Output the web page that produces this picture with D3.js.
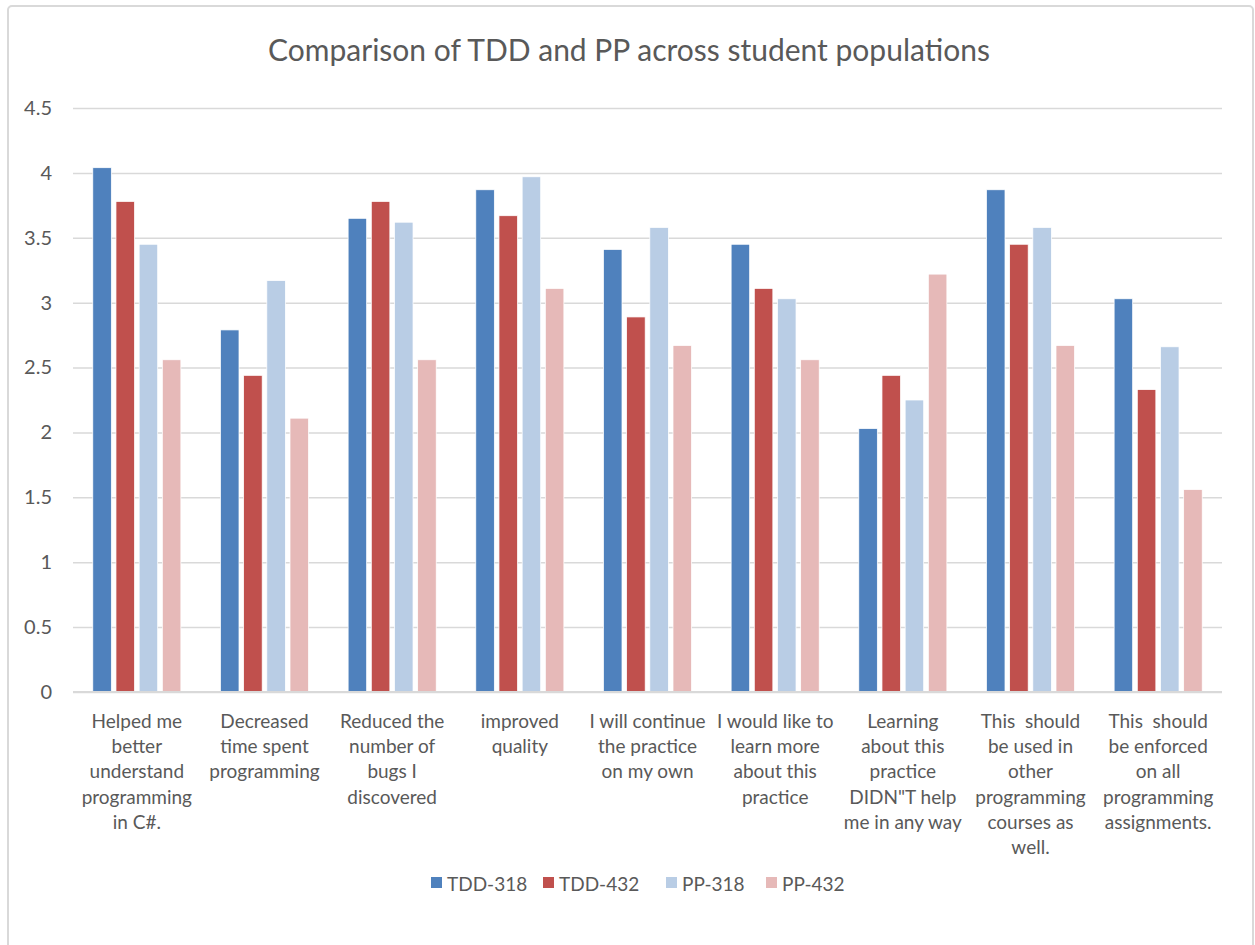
<!DOCTYPE html>
<html>
<head>
<meta charset="utf-8">
<script src="https://cdn.jsdelivr.net/npm/d3@7"></script>
<style>
  html, body { margin: 0; padding: 0; background: #fff; }
  svg { display: block; }
</style>
</head>
<body>
<svg id="chart" width="1255" height="945"></svg>
<script>
const categories = [
  ["Helped me", "better", "understand", "programming", "in C#."],
  ["Decreased", "time spent", "programming"],
  ["Reduced the", "number of", "bugs I", "discovered"],
  ["improved", "quality"],
  ["I will continue", "the practice", "on my own"],
  ["I would like to", "learn more", "about this", "practice"],
  ["Learning", "about this", "practice", "DIDN\"T help", "me in any way"],
  ["This  should", "be used in", "other", "programming", "courses as", "well."],
  ["This  should", "be enforced", "on all", "programming", "assignments."]
];
const seriesNames = ["TDD-318", "TDD-432", "PP-318", "PP-432"];
const tdd318 = [4.04, 2.79, 3.65, 3.87, 3.41, 3.45, 2.03, 3.87, 3.03];
const tdd432 = [3.78, 2.44, 3.78, 3.67, 2.89, 3.11, 2.44, 3.45, 2.33];
const pp318  = [3.45, 3.17, 3.62, 3.97, 3.58, 3.03, 2.25, 3.58, 2.66];
const pp432  = [2.56, 2.11, 2.56, 3.11, 2.67, 2.56, 3.22, 2.67, 1.56];
const yTicks = [0, 0.5, 1, 1.5, 2, 2.5, 3, 3.5, 4, 4.5];
const colors = ["#4f81bd", "#c0504d", "#b9cde5", "#e6b9b8"];
const title = "Comparison of TDD and PP across student populations";

const seriesValues = [tdd318, tdd432, pp318, pp432];
const font = "Lato, 'Open Sans', sans-serif";
const textColor = "#595959";

const svg = d3.select("#chart");

// outer border
svg.append("rect")
  .attr("x", 8).attr("y", 6).attr("width", 1245).attr("height", 960)
  .attr("rx", 4)
  .attr("fill", "none").attr("stroke", "#d9d9d9").attr("stroke-width", 2);

const plotL = 73, plotR = 1222, plotT = 108, plotB = 692;

const y = d3.scaleLinear().domain([0, 4.5]).range([plotB, plotT]);
const x0 = d3.scaleBand().domain(d3.range(categories.length)).range([plotL, plotR])
  .paddingInner(0.31).paddingOuter(0.155);
const x1 = d3.scaleBand().domain(d3.range(seriesNames.length)).range([0, x0.bandwidth()])
  .paddingInner(0.2).paddingOuter(0);

// title
svg.append("text")
  .attr("x", 629).attr("y", 61)
  .attr("text-anchor", "middle")
  .attr("font-family", font)
  .attr("font-weight", 400)
  .attr("font-size", 30)
  .attr("fill", textColor)
  .text(title);

// gridlines + y labels
const yAxis = d3.axisLeft(y).tickValues(yTicks).tickSize(-(plotR - plotL)).tickFormat(d3.format("~g")).tickPadding(21);
const gy = svg.append("g").attr("transform", `translate(${plotL},0)`).call(yAxis);
gy.select(".domain").remove();
gy.selectAll(".tick line").attr("stroke", "#d9d9d9").attr("stroke-width", 1.5);
gy.selectAll(".tick text")
  .attr("font-family", font).attr("font-size", 20).attr("fill", textColor);

// bars
const groups = svg.append("g").selectAll("g")
  .data(categories.map((c, i) => i))
  .join("g")
  .attr("transform", i => `translate(${x0(i)},0)`);

groups.selectAll("rect")
  .data(i => seriesValues.map((s, k) => ({ k, v: s[i] })))
  .join("rect")
  .attr("x", d => x1(d.k))
  .attr("width", x1.bandwidth())
  .attr("y", d => y(d.v))
  .attr("height", d => y(0) - y(d.v))
  .attr("fill", d => colors[d.k])
  .attr("stroke", "#fff").attr("stroke-width", 0.75);

// baseline
svg.append("line")
  .attr("x1", plotL).attr("x2", plotR)
  .attr("y1", y(0)).attr("y2", y(0))
  .attr("stroke", "#d9d9d9").attr("stroke-width", 2);

// x labels
const xl = svg.append("g").selectAll("text")
  .data(categories.map((c, i) => ({ c, i })))
  .join("text")
  .attr("x", d => x0(d.i) + x0.bandwidth() / 2)
  .attr("y", 728)
  .attr("text-anchor", "middle")
  .attr("font-family", font).attr("font-size", 19).attr("fill", textColor);
xl.selectAll("tspan")
  .data(d => d.c.map(line => ({ line, x: x0(d.i) + x0.bandwidth() / 2 })))
  .join("tspan")
  .attr("x", d => d.x)
  .attr("dy", (d, j) => j === 0 ? 0 : 25.2)
  .style("white-space", "pre")
  .text(d => d.line);

// legend
const legendX = [431, 543, 666, 766];
const lg = svg.append("g").selectAll("g")
  .data(seriesNames.map((n, k) => ({ n, k })))
  .join("g")
  .attr("transform", d => `translate(${legendX[d.k]},884)`);
lg.append("rect")
  .attr("x", 0).attr("y", -7).attr("width", 11).attr("height", 11)
  .attr("fill", d => colors[d.k]);
lg.append("text")
  .attr("x", 16).attr("y", 7)
  .attr("font-family", font).attr("font-size", 19).attr("fill", textColor)
  .text(d => d.n);
</script>
</body>
</html>
